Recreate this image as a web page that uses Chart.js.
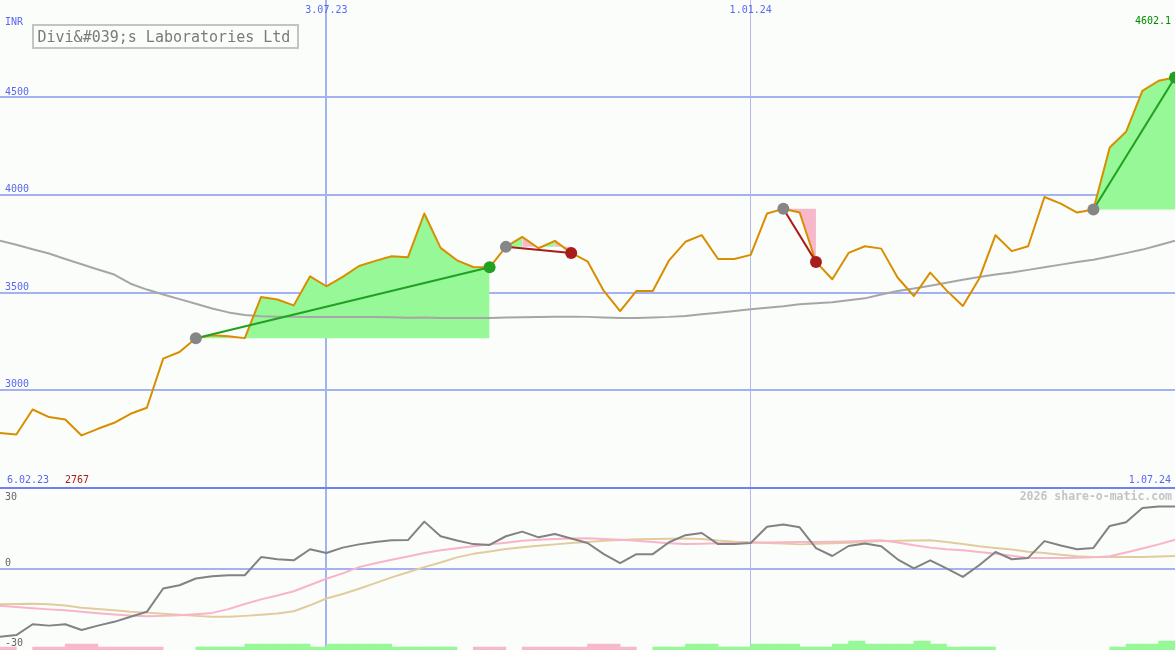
<!DOCTYPE html>
<html>
<head>
<meta charset="utf-8">
<script src="https://cdn.jsdelivr.net/npm/chart.js@4.4.1/dist/chart.umd.min.js"></script>
<style>
  html, body { margin: 0; padding: 0; background: #fafdfa; }
  #wrap { width: 1175px; height: 650px; }
</style>
</head>
<body>
<div id="wrap"><canvas id="chart" width="1175" height="650"></canvas></div>
<script>
// labels & ranges
const company = 'Divi&#039;s Laboratories Ltd';
const currency = 'INR';
const rangeStart = '6.02.23';
const rangeEnd = '1.07.24';
const gridDates = ['3.07.23', '1.01.24'];
const priceTicks = [3000, 3500, 4000, 4500];
const oscTicks = [0, 30];

// weekly closes
const price = [2779, 2772, 2900, 2861, 2849, 2767, 2801, 2832, 2878, 2909,
  3161, 3195, 3265, 3281, 3276, 3266, 3477, 3464, 3434, 3583,
  3532, 3580, 3636, 3662, 3686, 3681, 3905, 3729, 3665, 3631,
  3629, 3734, 3785, 3727, 3765, 3703, 3660, 3508, 3405, 3508,
  3508, 3665, 3760, 3794, 3672, 3672, 3693, 3905, 3929, 3910,
  3657, 3568, 3703, 3737, 3725, 3577, 3482, 3602, 3511, 3431,
  3571, 3794, 3712, 3737, 3990, 3956, 3910, 3926, 4244, 4324,
  4534, 4586, 4602.1];

// long moving average (grey)
const avg = [3765, 3745, 3722, 3700, 3672, 3645, 3618, 3592, 3545, 3515,
  3490, 3466, 3442, 3418, 3398, 3385, 3378, 3376, 3375, 3374,
  3374, 3374, 3374, 3374, 3373, 3370, 3372, 3369, 3369, 3369,
  3369, 3372, 3373, 3374, 3376, 3376, 3375, 3372, 3369, 3369,
  3372, 3375, 3380, 3388, 3396, 3405, 3414, 3422, 3430, 3440,
  3445, 3450, 3460, 3470, 3490, 3508, 3520, 3535, 3550, 3565,
  3580, 3592, 3603, 3616, 3630, 3643, 3656, 3668, 3685, 3702,
  3720, 3742, 3765];

// lower panel oscillator
const osc = [-25.1, -24.5, -20.5, -21, -20.5, -22.6, -21, -19.6, -17.7, -15.9,
  -7.3, -6.1, -3.6, -2.8, -2.4, -2.4, 4.3, 3.5, 3.1, 7.2,
  5.8, 7.8, 9.0, 9.9, 10.5, 10.6, 17.4, 12.0, 10.4, 9.1,
  8.8, 12.0, 13.7, 11.6, 12.8, 11.2, 9.5, 5.4, 2.1, 5.4,
  5.4, 9.8, 12.4, 13.2, 9.1, 9.1, 9.5, 15.5, 16.3, 15.3,
  7.6, 4.7, 8.4, 9.3, 8.3, 3.5, 0.1, 3.1, 0.1, -3.0,
  1.3, 6.2, 3.5, 4.0, 10.2, 8.6, 7.2, 7.7, 15.8, 17.2,
  22.4, 23.0, 23.0];
const oscSignal = [-13.7, -14.1, -14.6, -15.0, -15.3, -15.9, -16.4, -16.9, -17.3, -17.5,
  -17.4, -17.2, -16.8, -16.3, -14.9, -13.0, -11.3, -9.9, -8.3, -6.0,
  -3.7, -1.7, 0.6, 2.0, 3.3, 4.5, 5.8, 6.8, 7.6, 8.3,
  9.0, 9.6, 10.3, 10.7, 11.0, 11.2, 11.3, 11.0, 10.7, 10.3,
  9.9, 9.4, 9.1, 9.2, 9.4, 9.5, 9.6, 9.7, 9.8, 9.9,
  9.9, 10.0, 10.1, 10.3, 10.5, 9.7, 8.7, 7.8, 7.2, 6.8,
  6.2, 5.5, 4.8, 4.0, 4.0, 4.0, 4.1, 4.2, 4.6, 6.0,
  7.5, 9.0, 10.7];
const oscSlow = [-13.1, -13.0, -12.9, -13.1, -13.6, -14.4, -14.9, -15.3, -15.9, -16.2,
  -16.6, -17.0, -17.4, -17.7, -17.7, -17.4, -17.0, -16.5, -15.7, -13.5,
  -11.0, -9.3, -7.4, -5.3, -3.2, -1.3, 0.6, 2.3, 4.2, 5.5,
  6.4, 7.3, 7.9, 8.5, 9.0, 9.5, 9.9, 10.3, 10.6, 10.9,
  11.0, 11.1, 11.2, 11.0, 10.4, 10.0, 9.8, 9.5, 9.3, 9.0,
  9.2, 9.4, 9.6, 9.9, 10.2, 10.3, 10.4, 10.5, 9.9, 9.1,
  8.3, 7.7, 7.1, 6.3, 5.8, 5.2, 4.6, 4.3, 4.3, 4.3,
  4.3, 4.5, 4.7];

// trend strength per week (+ up / - down), one per interval between weeks
const trendBars = [-1, 0, -1, -1, -2, -2, -1, -1, -1, -1,
  0, 0, 1, 1, 1, 2, 2, 2, 2, 1,
  2, 2, 2, 2, 1, 1, 1, 1, 0, -1,
  -1, 0, -1, -1, -1, -1, -2, -2, -1, 0,
  1, 1, 2, 2, 1, 1, 2, 2, 2, 1,
  1, 2, 3, 2, 2, 2, 3, 2, 1, 1,
  1, 0, 0, 0, 0, 0, 0, 0, 1, 2,
  2, 3];

// trend signals (week indices)
const trendStart = [12, 31, 48, 67];
const trendEnd = [30, 35, 50, 72];
const trendUp = [true, false, false, true];
const pinkWeeks = [14, 32, 34, 48, 49];

const weeks = price.map((_, i) => {
  const d = new Date(2023, 1, 13 + i * 7);
  return d.getDate() + '.' + String(d.getMonth() + 1).padStart(2, '0') + '.' + String(d.getFullYear()).slice(2);
});

const BLUE = '#5a68f0';
const GRID = '#a4b2f2';
const GREEN_FILL = '#96f896';
const PINK_FILL = '#f8b8cc';
const UP = '#22a022';
const DOWN = '#a81c1c';

const pts = arr => arr.map((v, i) => ({x: i, y: v}));

const datasets = [];

// shaded trend areas
trendStart.forEach((s, k) => {
  datasets.push({
    type: 'line', yAxisID: 'y', order: 10,
    data: price.slice(s, trendEnd[k] + 1).map((v, j) => ({x: s + j, y: v})),
    borderWidth: 0, pointRadius: 0,
    backgroundColor: GREEN_FILL,
    fill: {value: price[s]},
    segment: {
      backgroundColor: c => pinkWeeks.includes(s + c.p0DataIndex) ? PINK_FILL : GREEN_FILL
    }
  });
});

datasets.push({type: 'line', yAxisID: 'y', order: 8, data: pts(avg), borderColor: '#a6a6a6', borderWidth: 2});
datasets.push({type: 'line', yAxisID: 'y', order: 6, data: pts(price), borderColor: '#d98e00', borderWidth: 2});

// trend lines with start/end dots
trendStart.forEach((s, k) => {
  const e = trendEnd[k];
  const col = trendUp[k] ? UP : DOWN;
  datasets.push({
    type: 'line', yAxisID: 'y', order: 4,
    data: [{x: s, y: price[s]}, {x: e, y: price[e]}],
    borderColor: col, borderWidth: 2,
    pointRadius: 6, pointBorderWidth: 0,
    pointBackgroundColor: ['#868686', col]
  });
});

// lower panel
datasets.push({type: 'line', yAxisID: 'y2', order: 3, data: pts(oscSlow), borderColor: '#e2cc9e', borderWidth: 2});
datasets.push({type: 'line', yAxisID: 'y2', order: 2, data: pts(oscSignal), borderColor: '#f8b4c8', borderWidth: 2});
datasets.push({type: 'line', yAxisID: 'y2', order: 1, data: pts(osc), borderColor: '#828282', borderWidth: 2});
datasets.push({
  type: 'bar', yAxisID: 'y2', order: 0, base: -30,
  data: trendBars.map((b, i) => ({x: i + 0.5, y: b ? -30 + Math.abs(b) * 1.1 : null, b})),
  backgroundColor: c => (c.raw && c.raw.b > 0) ? GREEN_FILL : PINK_FILL,
  borderWidth: 0, barPercentage: 1, categoryPercentage: 1
});

const textPlugin = {
  id: 'texts',
  beforeDraw(chart) {
    const ctx = chart.ctx;
    ctx.save();
    ctx.fillStyle = '#fafdfa';
    ctx.fillRect(0, 0, chart.width, chart.height);
    ctx.restore();
  },
  afterDraw(chart) {
    const {ctx, scales: {x, y, y2}} = chart;
    const R = chart.width - 4;
    ctx.save();
    ctx.font = '10px "DejaVu Sans Mono"';
    ctx.textBaseline = 'alphabetic';
    ctx.fillStyle = BLUE;
    ctx.textAlign = 'left';
    ctx.fillText(currency, 5, 25);
    priceTicks.forEach(v => ctx.fillText(String(v), 5, y.getPixelForValue(v) - 3));
    ctx.fillText(rangeStart, 7, y.bottom - 5);
    ctx.textAlign = 'center';
    gridDates.forEach(d => ctx.fillText(d, x.getPixelForValue(weeks.indexOf(d)), 12.5));
    ctx.textAlign = 'right';
    ctx.fillText(rangeEnd, R, y.bottom - 5);
    ctx.fillStyle = '#008a00';
    ctx.fillText(price[price.length - 1].toFixed(1), R, 24);
    ctx.textAlign = 'left';
    ctx.fillStyle = DOWN;
    ctx.fillText(String(Math.min(...price)), 65, y.bottom - 5);

    ctx.fillStyle = '#666666';
    ctx.fillText('30', 5, y2.top + 12);
    ctx.fillText('0', 5, y2.getPixelForValue(0) - 2.5);
    ctx.fillText('-30', 5, y2.bottom - 4);

    ctx.font = 'bold 11.5px "DejaVu Sans Mono"';
    ctx.fillStyle = '#c4c4c4';
    ctx.textAlign = 'right';
    ctx.fillText('2026 share-o-matic.com', R + 1, y2.top + 12);

    // title box
    ctx.strokeStyle = '#c4c4c4';
    ctx.lineWidth = 2;
    ctx.strokeRect(33, 25, 265, 23);
    ctx.font = '15px "DejaVu Sans Mono"';
    ctx.fillStyle = '#7a7a7a';
    ctx.textAlign = 'left';
    ctx.fillText(company, 37.5, 41.5);
    ctx.restore();
  }
};

new Chart(document.getElementById('chart'), {
  type: 'line',
  data: {datasets},
  plugins: [textPlugin],
  options: {
    responsive: false,
    animation: false,
    events: [],
    layout: {padding: 0, autoPadding: false},
    elements: {
      point: {radius: 0, hoverRadius: 0},
      line: {tension: 0, fill: false, borderJoinStyle: 'round'}
    },
    plugins: {legend: {display: false}, tooltip: {enabled: false}},
    scales: {
      x: {
        type: 'linear', min: 0, max: price.length - 1, offset: false,
        ticks: {display: false},
        border: {display: false},
        grid: {
          offset: false, drawTicks: false,
          color: c => c.index === 0 ? GRID : '#b2bbe4',
          lineWidth: c => c.index === 0 ? 2 : 1
        },
        afterBuildTicks: s => { s.ticks = gridDates.map(d => ({value: weeks.indexOf(d)})); }
      },
      y2: {
        position: 'left', stack: 'panels', stackWeight: 1,
        min: -30, max: 30,
        ticks: {display: false},
        border: {display: false},
        grid: {
          drawTicks: false,
          color: c => c.tick && c.tick.value === 30 ? '#7080ee' : GRID,
          lineWidth: 2
        },
        afterBuildTicks: s => { s.ticks = oscTicks.map(v => ({value: v})); }
      },
      y: {
        position: 'left', stack: 'panels', stackWeight: 3,
        min: 2500, max: 5000,
        ticks: {display: false},
        border: {display: false},
        grid: {drawTicks: false, color: GRID, lineWidth: 2},
        afterBuildTicks: s => { s.ticks = priceTicks.map(v => ({value: v})); }
      }
    }
  }
});
</script>
</body>
</html>
